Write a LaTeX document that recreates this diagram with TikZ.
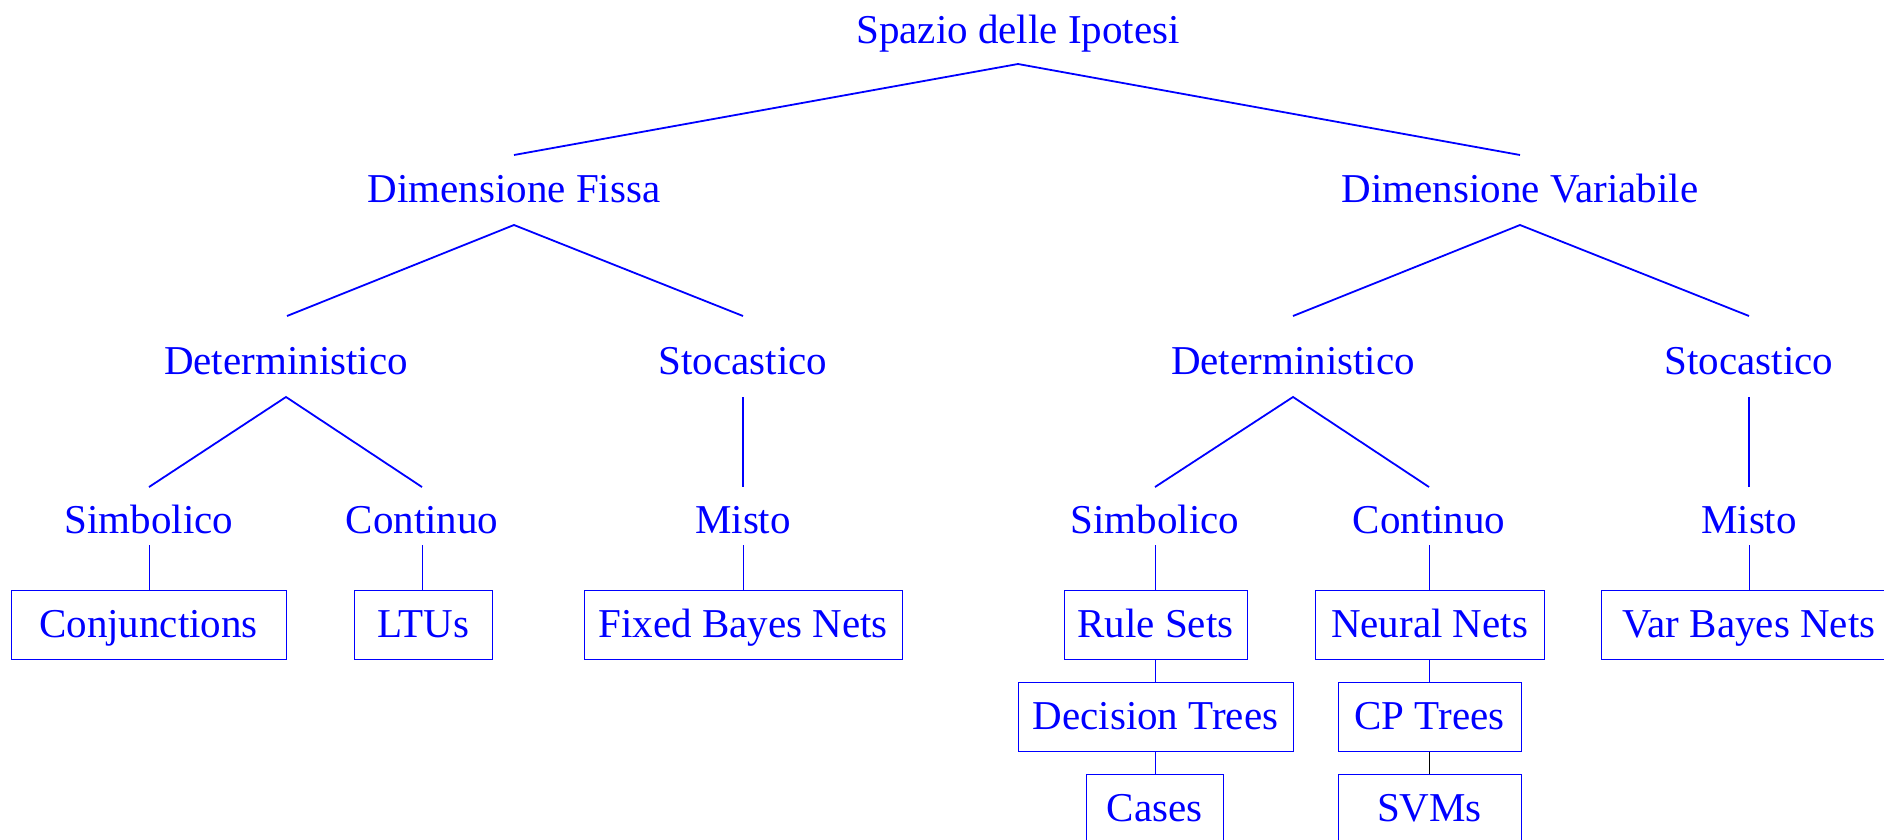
\documentclass[tikz,border=0pt]{standalone}
\usepackage{fontspec}
\setmainfont{Liberation Serif}
\begin{document}
\begin{tikzpicture}[x=1pt,y=-1pt,
  lbl/.style={anchor=base,inner sep=0pt,text=blue,font=\fontsize{41pt}{49pt}\selectfont},
  leaf/.style={draw=blue,line width=1pt,inner sep=0pt,text=blue,
    text height=34pt,text depth=9pt,minimum height=69pt,
    font=\fontsize{41pt}{49pt}\selectfont},
  edge/.style={draw=blue,line width=1.8pt},
  link/.style={draw=blue,line width=1pt}]
\useasboundingbox (0,0) rectangle (1884,839);

% inner labels of the tree
\node[lbl] (sp)   at (1018,43)  {Spazio delle Ipotesi};
\node[lbl] (df)   at (514,202)  {Dimensione Fissa};
\node[lbl] (dv)   at (1520,202) {Dimensione Variabile};
\node[lbl] (fdet) at (286,374)  {Deterministico};
\node[lbl] (fsto) at (743,374)  {Stocastico};
\node[lbl] (vdet) at (1293,374) {Deterministico};
\node[lbl] (vsto) at (1749,374) {Stocastico};
\node[lbl] (fsim) at (149,533)  {Simbolico};
\node[lbl] (fcon) at (422,533)  {Continuo};
\node[lbl] (fmis) at (743,533)  {Misto};
\node[lbl] (vsim) at (1155,533) {Simbolico};
\node[lbl] (vcon) at (1429,533) {Continuo};
\node[lbl] (vmis) at (1749,533) {Misto};

% boxed leaves
\node[leaf,minimum width=275pt] (conj) at (148.5,624.5)  {Conjunctions};
\node[leaf,minimum width=138pt] (ltu)  at (423,624.5)    {LTUs};
\node[leaf,minimum width=318pt] (fbn)  at (743,624.5)    {Fixed Bayes Nets};
\node[leaf,minimum width=183pt] (rule) at (1155.5,624.5) {Rule Sets};
\node[leaf,minimum width=229pt] (nn)   at (1429.5,624.5) {Neural Nets};
\node[leaf,minimum width=296pt] (vbn)  at (1749,624.5)   {Var Bayes Nets};
\node[leaf,minimum width=275pt] (dt)   at (1155.5,716.5) {Decision Trees};
\node[leaf,minimum width=183pt] (cp)   at (1429.5,716.5) {CP Trees};
\node[leaf,minimum width=137pt] (cas)  at (1154.5,808.5) {Cases};
\node[leaf,minimum width=183pt] (svm)  at (1429.5,808.5) {SVMs};

% root to dimensions
\draw[edge] ([xshift=0pt,yshift=47pt]df.base) -- ([yshift=-21pt]sp.base) -- ([yshift=47pt]dv.base);
% dimensions to kinds
\draw[edge] ([xshift=1pt,yshift=58pt]fdet.base) -- ([yshift=-23pt]df.base) -- ([yshift=58pt]fsto.base);
\draw[edge] ([yshift=58pt]vdet.base) -- ([yshift=-23pt]dv.base) -- ([yshift=58pt]vsto.base);
% kinds to representations
\draw[edge] ([yshift=46pt]fsim.base) -- ([yshift=-23pt]fdet.base) -- ([yshift=46pt]fcon.base);
\draw[edge] ([yshift=-23pt]fsto.base) -- ([yshift=46pt]fmis.base);
\draw[edge] ([yshift=46pt]vsim.base) -- ([yshift=-23pt]vdet.base) -- ([yshift=46pt]vcon.base);
\draw[edge] ([yshift=-23pt]vsto.base) -- ([yshift=46pt]vmis.base);
% representations to boxed leaves
\draw[link] ([yshift=-12pt]fsim.base) -- (fsim.base |- conj.north);
\draw[link] ([yshift=-12pt]fcon.base) -- (fcon.base |- ltu.north);
\draw[link] ([yshift=-12pt]fmis.base) -- (fmis.base |- fbn.north);
\draw[link] ([yshift=-12pt]vsim.base) -- (vsim.base |- rule.north);
\draw[link] ([yshift=-12pt]vcon.base) -- (vcon.base |- nn.north);
\draw[link] ([yshift=-12pt]vmis.base) -- (vmis.base |- vbn.north);
% stacked leaves
\draw[link] (rule.south) -- (rule.south |- dt.north);
\draw[link] (dt.south -| rule.south) -- (rule.south |- cas.north);
\draw[link] (nn.south) -- (nn.south |- cp.north);
\draw[line width=1pt] (cp.south) -- (svm.north);
\end{tikzpicture}
\end{document}
